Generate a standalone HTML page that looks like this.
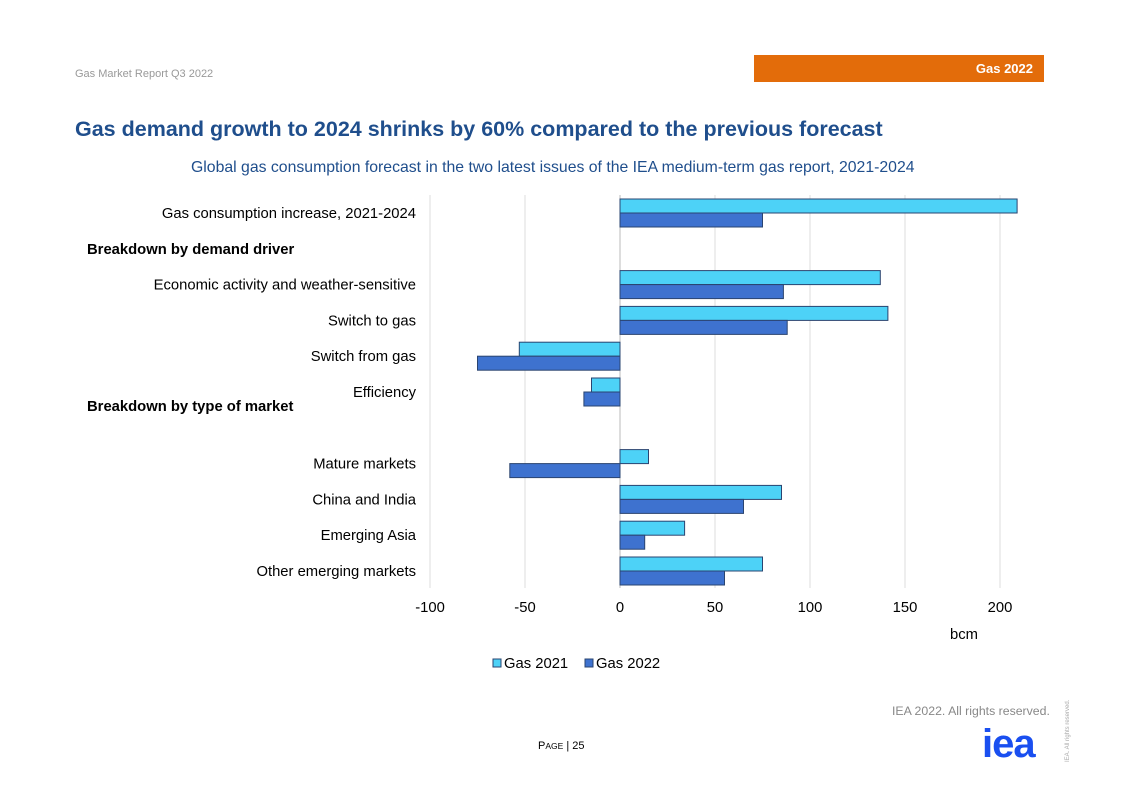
<!DOCTYPE html>
<html><head><meta charset="utf-8"><style>
body{margin:0;width:1122px;height:793px;background:#fff;font-family:"Liberation Sans",Arial,sans-serif;position:relative;overflow:hidden}
.a{position:absolute;white-space:nowrap}
</style></head><body>
<div class="a" style="left:75px;top:68px;font-size:11px;color:#999">Gas Market Report Q3 2022</div>
<div class="a" style="left:754px;top:55px;width:290px;height:27px;background:#e36c0a"><span style="position:absolute;right:11px;top:6px;color:#fff;font-size:13px;font-weight:bold">Gas 2022</span></div>
<div class="a" style="left:75px;top:117px;font-size:21.5px;font-weight:bold;color:#1f4e8c">Gas demand growth to 2024 shrinks by 60% compared to the previous forecast</div>
<div class="a" style="left:191px;top:159px;font-size:15.8px;color:#1f4e8c">Global gas consumption forecast in the two latest issues of the IEA medium-term gas report, 2021-2024</div>
<svg class="a" style="left:0;top:0" width="1122" height="793" id="chart"></svg>
<div class="a" style="left:892px;top:704px;font-size:12.3px;color:#888">IEA 2022. All rights reserved.</div>
<div class="a" style="left:538px;top:740px;font-size:11px;color:#000">P<span style="font-size:8.5px">AGE</span> | 25</div>
<div class="a" style="left:982px;top:724px;font-size:40px;font-weight:bold;color:#1a4ff0;letter-spacing:-1px;line-height:40px">iea</div>
<div class="a" style="left:1065px;top:762px;font-size:6px;color:#aaa;transform:rotate(-90deg);transform-origin:0 0">IEA. All rights reserved.</div>
<script>
const categories=["Gas consumption increase, 2021-2024","Breakdown by demand driver","Economic activity and weather-sensitive","Switch to gas","Switch from gas","Efficiency","","Mature markets","China and India","Emerging Asia","Other emerging markets"];
const gas2021=[209,null,137,141,-53,-15,null,15,85,34,75];
const gas2022=[75,null,86,88,-75,-19,null,-58,65,13,55];
const ticks=[-100,-50,0,50,100,150,200];
const NS="http://www.w3.org/2000/svg";
const svg=document.getElementById('chart');
const x=v=>620+v*1.9;
const yTop=195, slot=35.8;
const y=i=>yTop+i*slot;
function mk(t,a){const e=document.createElementNS(NS,t);for(const k in a)e.setAttribute(k,a[k]);svg.appendChild(e);return e;}
ticks.forEach(t=>{
  const g=mk('line',{x1:x(t),x2:x(t),y1:195,y2:588,stroke:t===0?'#bbb':'#ddd','stroke-width':1});
  
  
  const l=mk('text',{x:x(t),y:612,'text-anchor':'middle','font-size':14.8,fill:'#000'});
  l.textContent=t;
  
  
});
categories.forEach((c,i)=>{
  if(!c)return;
  const bold=c.startsWith('Breakdown');
  const t=mk('text',{x:bold?87:416,y:y(i)+23,'text-anchor':bold?'start':'end','font-size':14.8,'font-weight':bold?'bold':'normal',fill:'#000'});
  t.textContent=c;
  
  
});
const b2=mk('text',{x:87,y:411,'font-size':14.8,'font-weight':'bold',fill:'#000'});
b2.textContent='Breakdown by type of market';


function bar(v,i,off,col,name){
  if(v==null)return;
  const r=mk('rect',{x:Math.min(x(0),x(v)),y:y(i)+off,width:Math.abs(x(v)-x(0)),height:14,fill:col,stroke:'#2a4470','stroke-width':1});
  
  
}
gas2021.forEach((v,i)=>bar(v,i,4,'#4dd2f7','bar-gas-2021'));
gas2022.forEach((v,i)=>bar(v,i,18,'#3e72cf','bar-gas-2022'));
const u=mk('text',{x:950,y:639,'font-size':14.8,fill:'#000'});u.textContent='bcm';


[[493,'#4dd2f7','Gas 2021'],[585,'#3e72cf','Gas 2022']].forEach(([lx,c,n])=>{
  const r=mk('rect',{x:lx,y:659,width:8,height:8,fill:c,stroke:'#2a4470'});
  
  
  const t=mk('text',{x:lx+11,y:668,'font-size':14.8,fill:'#000'});t.textContent=n;
  
  
});
</script>
</body></html>
